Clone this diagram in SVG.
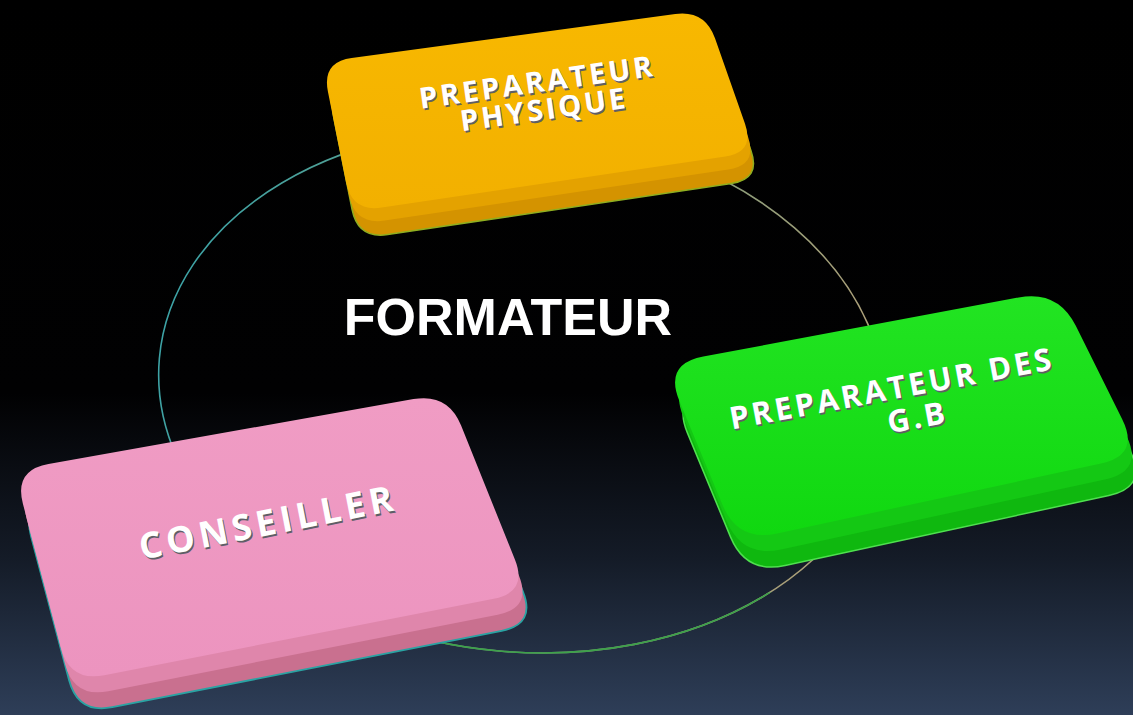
<svg xmlns="http://www.w3.org/2000/svg" width="1133" height="715" viewBox="0 0 1133 715">
<defs>
<linearGradient id="bg" x1="0" y1="0" x2="0" y2="715" gradientUnits="userSpaceOnUse">
<stop offset="0" stop-color="#000000"/>
<stop offset="0.55" stop-color="#010102"/>
<stop offset="0.78" stop-color="#141b27"/>
<stop offset="1" stop-color="#2e3e58"/>
</linearGradient>
<linearGradient id="ring" x1="150" y1="300" x2="880" y2="420" gradientUnits="userSpaceOnUse">
<stop offset="0" stop-color="#3aa3a8"/>
<stop offset="0.5" stop-color="#6f9a7a"/>
<stop offset="1" stop-color="#b3a079"/>
</linearGradient>
<clipPath id="lowClip"><rect x="380" y="570" width="500" height="145"/></clipPath>
<linearGradient id="yTop" x1="0" y1="0" x2="0" y2="1">
<stop offset="0" stop-color="#f8b800"/>
<stop offset="1" stop-color="#f2b000"/>
</linearGradient>
<linearGradient id="gTop" x1="0" y1="0" x2="0" y2="1">
<stop offset="0" stop-color="#22e422"/>
<stop offset="1" stop-color="#10d810"/>
</linearGradient>
<linearGradient id="pTop" x1="0" y1="0" x2="0" y2="1">
<stop offset="0" stop-color="#f09cc4"/>
<stop offset="1" stop-color="#ec94bf"/>
</linearGradient>
</defs>
<style>
.lbl{font-family:"Open Sans","DejaVu Sans",sans-serif;font-weight:700;text-anchor:middle}
.sh{fill:#5e5e66}
.fg{fill:#ffffff}
.ring{fill:none;stroke-width:1.6}
.title{font-family:"Liberation Sans",Arial,sans-serif;font-weight:bold;font-size:52px;fill:#ffffff;text-anchor:middle}
</style>
<rect x="0" y="0" width="1133" height="715" fill="url(#bg)"/>
<g id="connectors">
<ellipse class="ring" cx="522" cy="390" rx="364" ry="262" transform="rotate(5 522 390)" stroke="url(#ring)"/>
<ellipse class="ring" cx="522" cy="390" rx="364" ry="262" transform="rotate(5 522 390)" stroke="#3da24a" clip-path="url(#lowClip)"/>
</g>
<g id="node-preparateur-physique">
<path transform="translate(6,27)" d="M351.7,58 L675.3,14 Q705,10 715,38.3 L745,123.7 Q755,152 725.3,156.4 L381.7,207.6 Q352,212 346.1,182.6 L327.9,91.4 Q322,62 351.7,58 Z" fill="#d49300" stroke="#8fae20" stroke-width="1.5"/>
<path transform="translate(3,13)" d="M351.7,58 L675.3,14 Q705,10 715,38.3 L745,123.7 Q755,152 725.3,156.4 L381.7,207.6 Q352,212 346.1,182.6 L327.9,91.4 Q322,62 351.7,58 Z" fill="#e4a200"/>
<path d="M351.7,58 L675.3,14 Q705,10 715,38.3 L745,123.7 Q755,152 725.3,156.4 L381.7,207.6 Q352,212 346.1,182.6 L327.9,91.4 Q322,62 351.7,58 Z" fill="url(#yTop)"/>
<g transform="translate(540,95) rotate(-8)" font-size="29" letter-spacing="3">
<text class="lbl sh" x="0" y="-1">PREPARATEUR</text>
<text class="lbl sh" x="3" y="27">PHYSIQUE</text>
<text class="lbl fg" x="-1" y="-3">PREPARATEUR</text>
<text class="lbl fg" x="2" y="25">PHYSIQUE</text>
</g>
</g>
<g id="node-preparateur-gb">
<path transform="translate(8,32)" d="M703.3,356.6 L1018.7,297.4 Q1058,290 1075.8,325.8 L1122.2,419.2 Q1140,455 1100.9,463.5 L777.1,533.5 Q738,542 722.6,505.1 L679.4,400.9 Q664,364 703.3,356.6 Z" fill="#0fb80f" stroke="#4fe04f" stroke-width="1.5"/>
<path transform="translate(4,16)" d="M703.3,356.6 L1018.7,297.4 Q1058,290 1075.8,325.8 L1122.2,419.2 Q1140,455 1100.9,463.5 L777.1,533.5 Q738,542 722.6,505.1 L679.4,400.9 Q664,364 703.3,356.6 Z" fill="#14c814"/>
<path d="M703.3,356.6 L1018.7,297.4 Q1058,290 1075.8,325.8 L1122.2,419.2 Q1140,455 1100.9,463.5 L777.1,533.5 Q738,542 722.6,505.1 L679.4,400.9 Q664,364 703.3,356.6 Z" fill="url(#gTop)"/>
<g transform="translate(900,400) rotate(-10.6)" font-size="31" letter-spacing="3">
<text class="lbl sh" x="-5" y="0">PREPARATEUR DES</text>
<text class="lbl sh" x="15" y="33">G.B</text>
<text class="lbl fg" x="-6" y="-2">PREPARATEUR DES</text>
<text class="lbl fg" x="14" y="31">G.B</text>
</g>
</g>
<g id="node-conseiller">
<path transform="translate(8,32)" d="M48.5,463.9 L413.5,399.1 Q448,393 461.1,425.5 L514.9,559.5 Q528,592 493.7,598.8 L104.3,675.2 Q70,682 61.1,648.2 L22.9,503.8 Q14,470 48.5,463.9 Z" fill="#c9708f" stroke="#2aa3a3" stroke-width="1.8"/>
<path transform="translate(4,16)" d="M48.5,463.9 L413.5,399.1 Q448,393 461.1,425.5 L514.9,559.5 Q528,592 493.7,598.8 L104.3,675.2 Q70,682 61.1,648.2 L22.9,503.8 Q14,470 48.5,463.9 Z" fill="#df86ab"/>
<path d="M48.5,463.9 L413.5,399.1 Q448,393 461.1,425.5 L514.9,559.5 Q528,592 493.7,598.8 L104.3,675.2 Q70,682 61.1,648.2 L22.9,503.8 Q14,470 48.5,463.9 Z" fill="url(#pTop)"/>
<g transform="translate(268,522) rotate(-11)" font-size="36" letter-spacing="4.5">
<text class="lbl sh" x="1" y="15">CONSEILLER</text>
<text class="lbl fg" x="0" y="13">CONSEILLER</text>
</g>
</g>
<g id="node-formateur">
<text class="title" x="508" y="335">FORMATEUR</text>
</g>
</svg>
